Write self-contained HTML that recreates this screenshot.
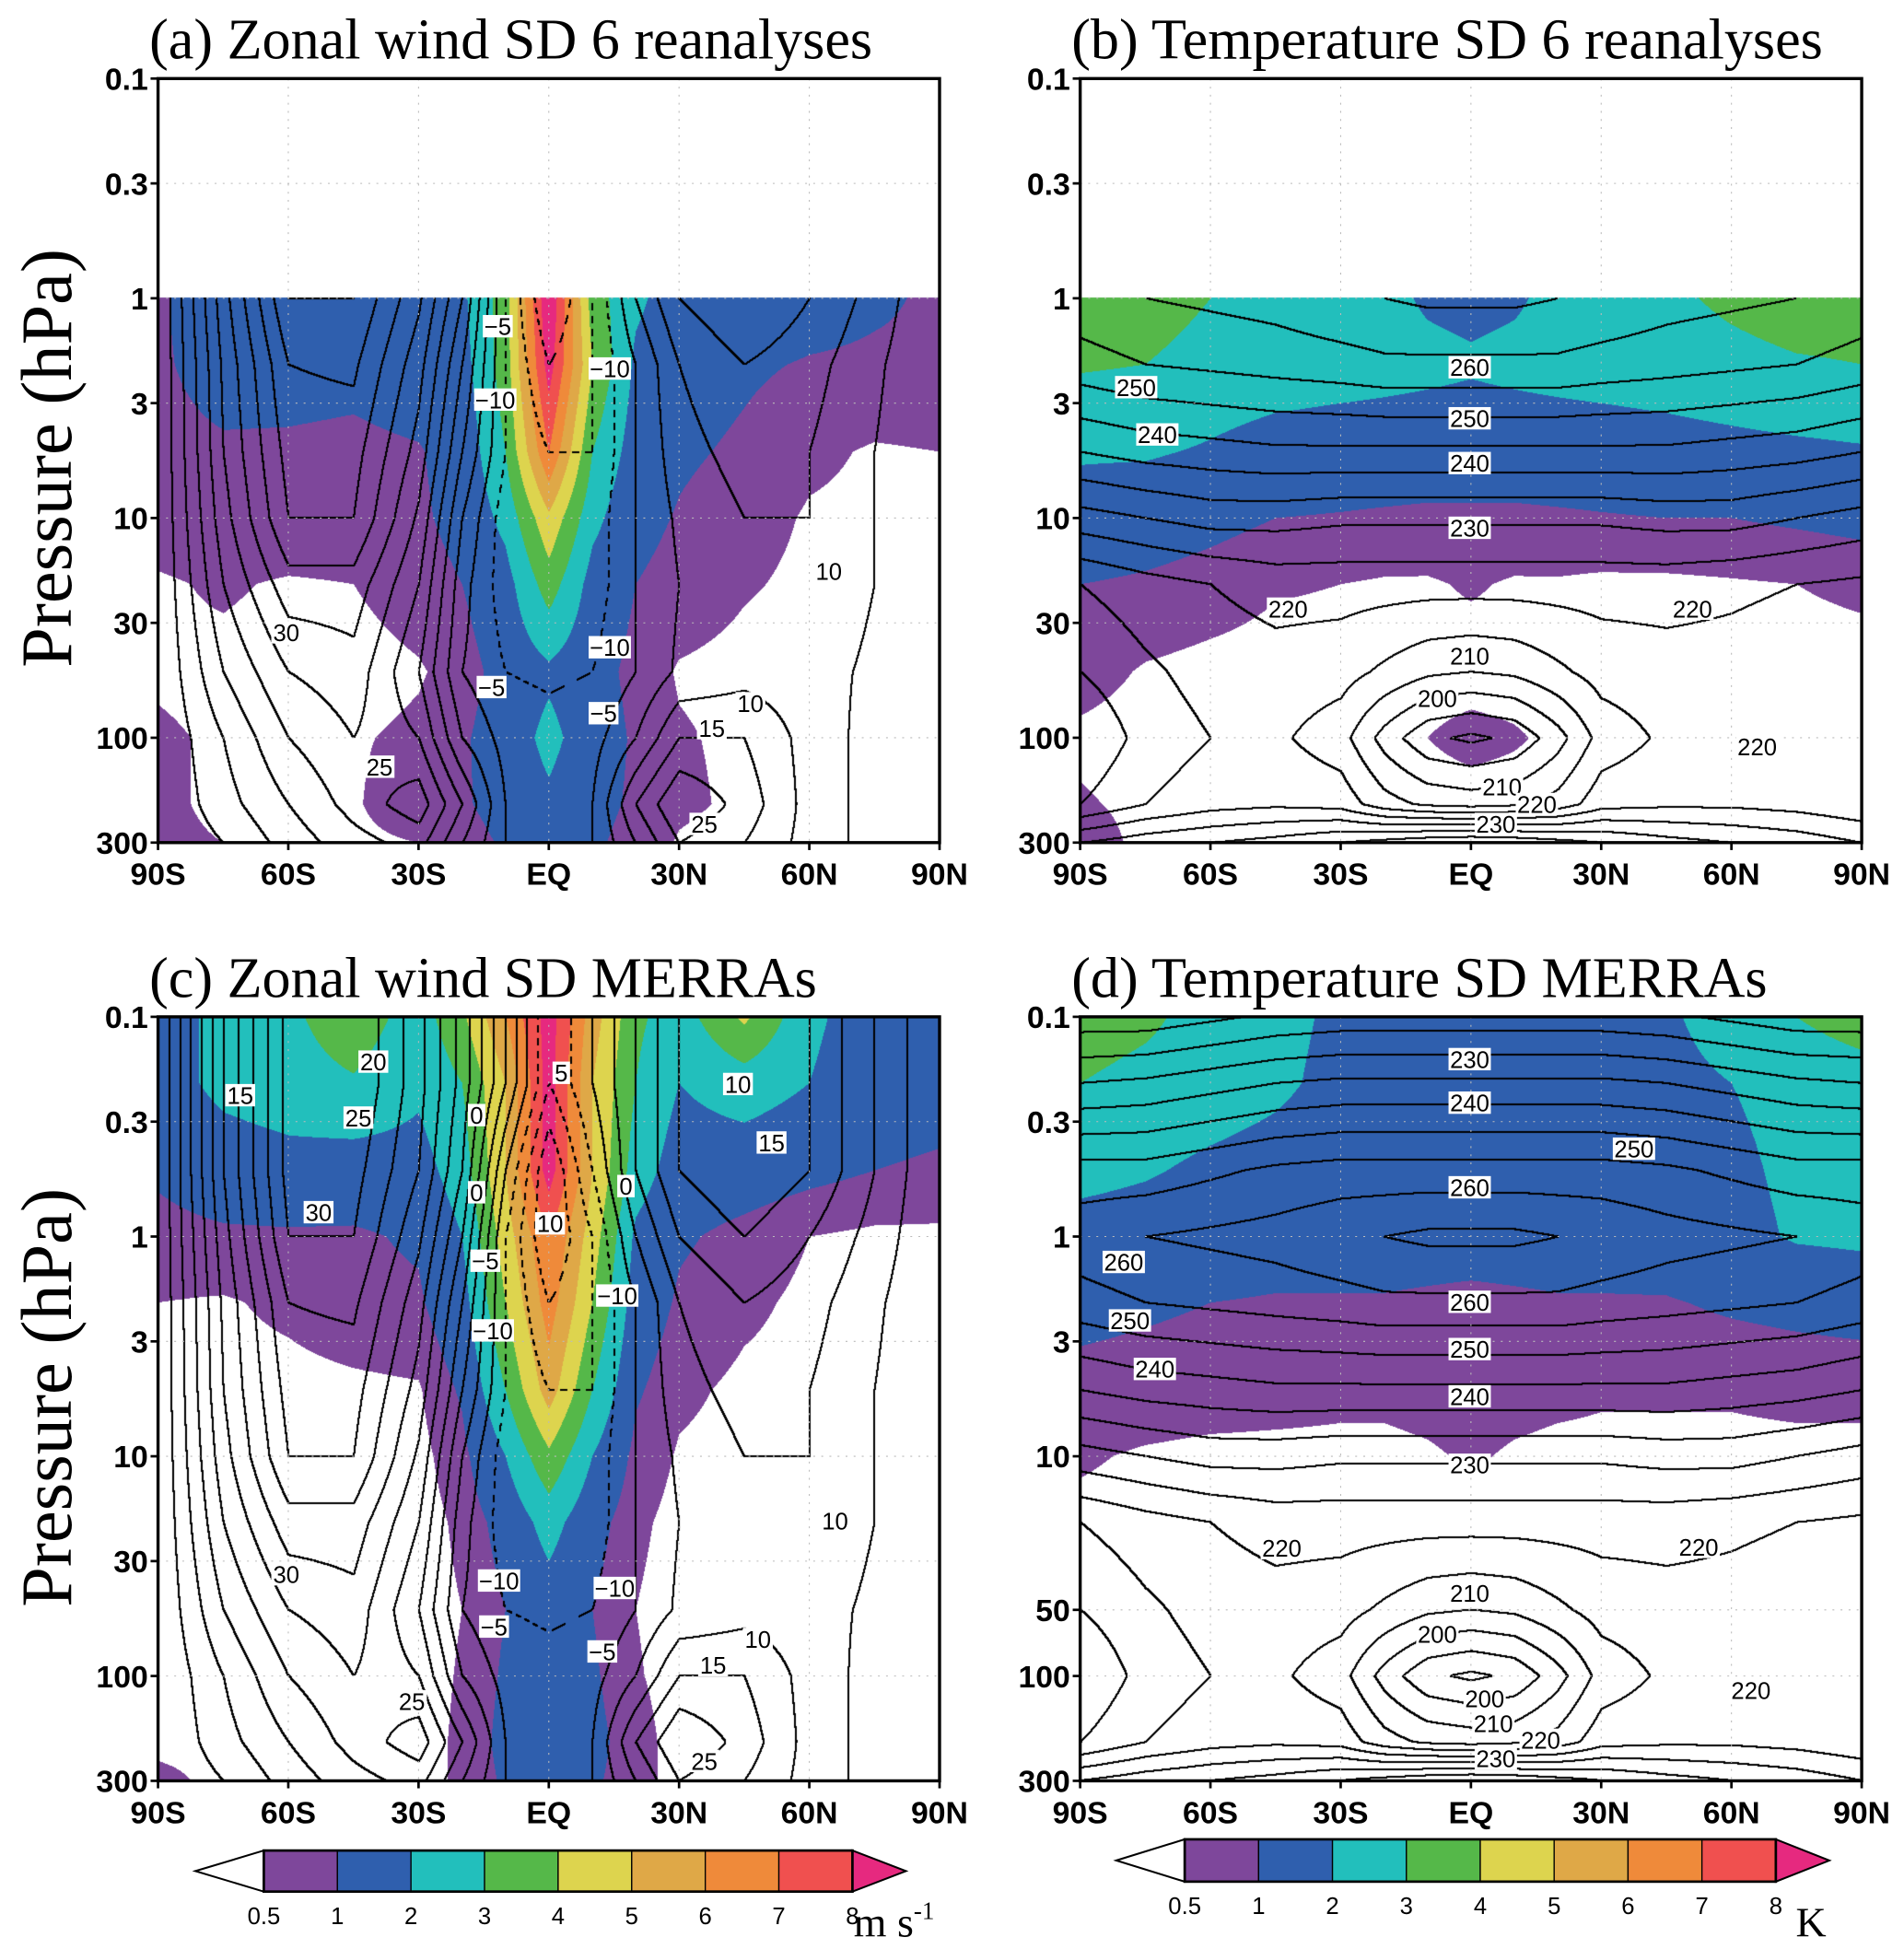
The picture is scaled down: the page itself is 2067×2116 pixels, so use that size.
<!DOCTYPE html>
<html><head><meta charset="utf-8">
<style>
html,body{margin:0;padding:0;background:#fff;}
#wrap{position:relative;width:2067px;height:2116px;overflow:hidden;}
canvas{position:absolute;}
svg{position:absolute;left:0;top:0;}
</style></head>
<body>
<div id="wrap">
<canvas id="cA"></canvas>
<canvas id="cB"></canvas>
<canvas id="cC"></canvas>
<canvas id="cD"></canvas>
<svg id="ov" width="2067" height="2116" viewBox="0 0 1530 1566"></svg>
</div>
<script>
// ---------- data ----------
const LATS=[-90,-75,-60,-45,-30,-20,-10,0,10,20,30,45,60,75,90];
const LEVS=[0.1,0.2,0.5,1,2,5,10,20,50,100,200,300];
const N=null;
const sdA=[
 N,N,N,
 [0.9,1.5,1.5,1.5,1.5,1.8,3.5,9,3.5,2.2,1.5,1.5,1.3,1.1,0.9],
 [0.9,1.3,1.25,1.2,1.4,1.6,3.5,8.5,4,1.8,1.3,1.1,0.95,0.9,0.9],
 [0.8,0.9,0.9,0.85,0.95,1.3,3,7,3,1.5,1.1,0.9,0.6,0.45,0.5],
 [0.7,0.8,0.85,0.8,0.9,1.2,2.3,4.8,2.3,1.2,0.95,0.7,0.45,0.4,0.4],
 [0.45,0.55,0.45,0.5,0.75,1.0,1.6,3.5,1.6,1.0,0.8,0.55,0.4,0.35,0.35],
 [0.45,0.4,0.35,0.3,0.45,0.7,1.3,1.8,1.3,0.8,0.45,0.35,0.3,0.3,0.3],
 [0.55,0.45,0.35,0.45,0.6,0.9,1.4,2.3,1.4,0.9,0.55,0.4,0.3,0.3,0.3],
 [0.6,0.4,0.35,0.45,0.8,0.9,1.3,1.8,1.2,0.9,0.6,0.4,0.3,0.3,0.3],
 [0.6,0.5,0.35,0.4,0.5,0.7,1.1,1.4,1.1,0.8,0.45,0.3,0.3,0.3,0.3]];
const sdB=[
 N,N,N,
 [3.5,3.5,3,2.5,2.5,2.2,1.9,1.8,1.9,2.2,2.5,2.8,3.2,3.5,3.5],
 [3.1,3.0,2.6,2.5,2.4,2.3,2.2,2.1,2.2,2.3,2.4,2.5,2.7,2.9,3.0],
 [2.1,2.1,1.9,1.6,1.5,1.5,1.5,1.5,1.5,1.5,1.5,1.6,1.7,1.8,1.9],
 [1.6,1.4,1.2,1.0,0.95,0.9,0.85,0.85,0.85,0.9,0.95,1.0,1.0,1.1,1.2],
 [1.0,0.9,0.75,0.55,0.5,0.45,0.45,0.55,0.45,0.45,0.4,0.4,0.45,0.5,0.6],
 [0.7,0.45,0.35,0.3,0.3,0.3,0.3,0.3,0.3,0.3,0.3,0.3,0.3,0.3,0.3],
 [0.4,0.3,0.3,0.3,0.3,0.4,0.5,0.65,0.55,0.4,0.3,0.3,0.3,0.3,0.3],
 [0.55,0.4,0.3,0.3,0.3,0.3,0.3,0.3,0.3,0.3,0.3,0.3,0.3,0.3,0.3],
 [0.7,0.4,0.3,0.3,0.3,0.3,0.3,0.3,0.3,0.3,0.3,0.3,0.3,0.3,0.3]];
const sdC=[
 [1.5,2.3,2.8,3.6,2.5,3.8,6,8.5,5.5,3.2,2.5,4.2,2.2,1.5,1.5],
 [1.5,2.3,2.6,2.9,2.2,3,5,8.5,5,3,2,2.5,2,1.4,1.3],
 [1.1,1.4,1.6,1.5,1.6,2.5,5,8.5,5,2.5,1.5,1.4,1.2,1,0.9],
 [0.8,0.9,0.9,0.9,1.1,2,4.5,7,4.5,1.8,1.1,0.8,0.5,0.4,0.4],
 [0.5,0.45,0.6,0.8,0.9,1.6,4,6.5,4,1.5,0.9,0.6,0.4,0.4,0.4],
 [0.4,0.35,0.35,0.4,0.45,1.1,3,5.5,3,1.1,0.6,0.4,0.35,0.35,0.35],
 [0.35,0.3,0.3,0.3,0.35,0.8,2,3.8,2,0.8,0.45,0.35,0.3,0.3,0.3],
 [0.3,0.3,0.3,0.3,0.3,0.6,1.3,2.4,1.3,0.6,0.35,0.3,0.3,0.3,0.3],
 [0.3,0.3,0.3,0.3,0.3,0.5,1.0,1.5,1.0,0.5,0.3,0.3,0.3,0.3,0.3],
 [0.3,0.3,0.3,0.3,0.3,0.55,1.1,1.8,1.1,0.55,0.3,0.3,0.3,0.3,0.3],
 [0.4,0.4,0.3,0.3,0.3,0.6,1.2,1.5,1.2,0.7,0.3,0.3,0.3,0.3,0.3],
 [0.6,0.4,0.3,0.3,0.3,0.6,1.1,1.3,1.1,0.7,0.3,0.3,0.3,0.3,0.3]];
const sdD=[
 [3.5,3.2,2.6,2.3,1.8,1.6,1.6,1.6,1.6,1.6,1.7,1.9,2.3,3.0,3.5],
 [3.0,2.7,2.5,2.2,1.7,1.5,1.5,1.5,1.5,1.5,1.6,1.8,2.0,2.3,2.5],
 [2.3,2.1,1.8,1.6,1.4,1.3,1.3,1.3,1.3,1.3,1.4,1.5,1.8,2.2,2.4],
 [1.6,1.5,1.4,1.3,1.3,1.3,1.3,1.3,1.3,1.3,1.3,1.4,1.7,2.1,2.2],
 [1.2,1.1,1.0,0.95,0.95,0.95,0.9,0.85,0.9,0.95,0.95,0.95,1.1,1.2,1.3],
 [0.8,0.75,0.7,0.65,0.6,0.6,0.65,0.7,0.65,0.6,0.55,0.55,0.55,0.6,0.6],
 [0.55,0.45,0.4,0.4,0.4,0.4,0.45,0.55,0.45,0.4,0.4,0.4,0.4,0.4,0.4],
 [0.4,0.35,0.3,0.3,0.3,0.3,0.3,0.3,0.3,0.3,0.3,0.3,0.3,0.3,0.3],
 [0.3,0.3,0.3,0.3,0.3,0.3,0.3,0.3,0.3,0.3,0.3,0.3,0.3,0.3,0.3],
 [0.3,0.3,0.3,0.3,0.3,0.3,0.3,0.3,0.3,0.3,0.3,0.3,0.3,0.3,0.3],
 [0.3,0.3,0.3,0.3,0.3,0.3,0.3,0.3,0.3,0.3,0.3,0.3,0.3,0.3,0.3],
 [0.3,0.3,0.3,0.3,0.3,0.3,0.3,0.3,0.3,0.3,0.3,0.3,0.3,0.3,0.3]];
const meanU=[
 [0,30,52,55,42,28,10,-10,0,10,20,25,20,10,0],
 [0,30,52,55,42,28,10,-10,0,10,20,25,20,10,0],
 [0,30,52,52,40,25,0,-20,-5,10,20,25,20,10,0],
 [0,28,50,50,36,20,-5,-20,-10,5,15,20,15,8,0],
 [0,26,45,46,32,15,-5,-15,-10,0,10,15,12,6,0],
 [0,25,42,42,28,10,-5,-10,-10,0,8,12,10,5,0],
 [0,23,40,40,24,5,-8,-10,-8,0,6,10,10,5,0],
 [0,20,33,33,20,2,-8,-8,-8,0,5,8,9,5,0],
 [0,15,25,28,15,0,-5,-6,-5,0,6,8,7,4,0],
 [0,10,20,25,20,5,-2,-3,-2,5,15,15,8,3,0],
 [0,8,15,22,28,15,0,-2,0,15,25,18,8,3,0],
 [0,5,12,18,22,10,0,-2,0,10,20,15,8,3,0]];
const meanT=[
 [222,222,224,226,227,227,227,227,227,227,227,226,224,222,222],
 [235,236,238,240,241,241,241,241,241,241,241,240,238,236,235],
 [252,252,254,256,257,257,257,257,257,257,257,256,254,252,252],
 [258,260,261,262,264,265,266,266,266,265,264,262,261,260,258],
 [253,255,256,257,258,259,259,259,259,259,258,257,256,255,253],
 [240,242,243,244,244,244,244,244,244,244,244,244,243,242,240],
 [228,230,232,232,231,231,231,231,231,231,231,232,232,230,228],
 [215,218,220,222,222,222,222,222,222,222,222,222,221,220,219],
 [210,214,217,218,217,214,211,210,211,214,217,218,218,217,216],
 [205,212,215,216,212,203,196,194,196,203,212,216,218,218,216],
 [210,215,218,219,218,212,209,208,209,212,218,219,219,218,216],
 [225,228,230,232,235,237,239,240,239,237,235,232,230,228,225]];
const CLEV=[0.5,1,2,3,4,5,6,7,8];
const CBLABELS=["0.5","1","2","3","4","5","6","7","8"];
const COLORS=["#7e479b","#2f5fae","#22bfbc","#55b849","#ddd44e","#dfa847","#ef8a3a","#f0504f","#e6297f"];
const YTICKS_ABC=[0.1,0.3,1,3,10,30,100,300];
const YTICKS_D=[0.1,0.3,1,3,10,50,100,300];
const XTICKS=[-90,-60,-30,0,30,60,90];
const XLABELS=["90S","60S","30S","EQ","30N","60N","90N"];
const LAB_A=[["-5",400,262],["-10",490,296],["-10",398,321],["30",230,508],["-10",490,520],["-5",395,552],["-5",485,573],["10",603,565],["15",572,585],["25",305,616],["25",566,662],["10",666,459]];
const LAB_B=[["250",913,311],["240",930,349],["260",1181,295],["250",1181,336],["240",1181,372],["230",1181,424],["220",1035,489],["220",1360,489],["210",1181,527],["200",1155,561],["210",1207,632],["220",1235,646],["230",1202,662],["220",1412,600]];
const LAB_C=[["15",193,880],["20",300,853],["25",288,898],["30",256,974],["0",383,896],["0",383,958],["5",451,862],["10",442,983],["0",503,953],["-5",390,1013],["-10",496,1041],["-10",396,1069],["10",593,871],["15",620,918],["30",230,1265],["10",671,1222],["-10",401,1270],["-10",494,1276],["-5",397,1307],["-5",484,1327],["10",609,1317],["15",573,1338],["25",331,1367],["25",566,1415]];
const LAB_D=[["230",1181,851],["240",1181,886],["250",1313,923],["260",1181,954],["260",903,1014],["250",908,1061],["240",928,1100],["260",1181,1046],["250",1181,1084],["240",1181,1122],["230",1181,1177],["220",1030,1244],["220",1365,1243],["210",1181,1280],["200",1155,1313],["200",1193,1365],["210",1200,1385],["220",1238,1398],["230",1202,1413],["220",1407,1358]];

// ---------- layout (display units, scaled by S) ----------
const S=2067/1530;
const PW=628, PH=614;
const panels=[
 {id:"cA",x:127,y:63,sd:sdA,mean:meanU,iv:5,ticks:YTICKS_ABC,title:"(a) Zonal wind SD 6 reanalyses",labs:LAB_A,key:"a",minP:1},
 {id:"cB",x:868,y:63,sd:sdB,mean:meanT,iv:5,ticks:YTICKS_ABC,title:"(b) Temperature SD 6 reanalyses",labs:LAB_B,key:"b",minP:1},
 {id:"cC",x:127,y:817,sd:sdC,mean:meanU,iv:5,ticks:YTICKS_ABC,title:"(c) Zonal wind SD MERRAs",labs:LAB_C,key:"c",minP:0},
 {id:"cD",x:868,y:817,sd:sdD,mean:meanT,iv:5,ticks:YTICKS_D,title:"(d) Temperature SD MERRAs",labs:LAB_D,key:"d",minP:0}];
const LMIN=-1, LMAX=Math.log10(300);
function yOf(p,pan){return pan.y+(Math.log10(p)-LMIN)/(LMAX-LMIN)*PH;}
function xOf(lat,pan){return pan.x+(lat+90)/180*PW;}
const LL=LEVS.map(p=>Math.log10(p));
function idx(arr,v){let i=0;while(i<arr.length-2&&v>arr[i+1])i++;return i;}
function interp(g,lat,lp){
 const i=idx(LATS,lat), j=idx(LL,lp);
 const tx=Math.max(0,Math.min(1,(lat-LATS[i])/(LATS[i+1]-LATS[i])));
 const ty=Math.max(0,Math.min(1,(lp-LL[j])/(LL[j+1]-LL[j])));
 const r0=g[j], r1=g[j+1];
 if(!r0||!r1){ if(!r0&&!r1) return null; const r=r0||r1; return r[i]*(1-tx)+r[i+1]*tx; }
 const a=r0[i]*(1-tx)+r0[i+1]*tx, b=r1[i]*(1-tx)+r1[i+1]*tx;
 return a*(1-ty)+b*ty;
}
function hex(c){return [parseInt(c.substr(1,2),16),parseInt(c.substr(3,2),16),parseInt(c.substr(5,2),16)];}
const RGB=COLORS.map(hex);

panels.forEach(pan=>{
 const cv=document.getElementById(pan.id);
 const L=Math.round(pan.x*S), T=Math.round(pan.y*S);
 const W=Math.round((pan.x+PW)*S)-L, H=Math.round((pan.y+PH)*S)-T;
 cv.width=W; cv.height=H; cv.style.left=L+"px"; cv.style.top=T+"px";
 const ctx=cv.getContext("2d");
 const img=ctx.createImageData(W,H); const d=img.data;
 const F=new Float32Array(W*H); const M=new Uint8Array(W*H);
 const minLP=pan.minP>0?Math.log10(pan.minP):-99;
 for(let j=0;j<H;j++){
  const lp=LMIN+(j+0.5)/H*(LMAX-LMIN);
  for(let i=0;i<W;i++){
   const lat=-90+(i+0.5)/W*180;
   const k=j*W+i; let r=255,g=255,b=255;
   if(lp>=minLP-0.002){
    M[k]=1;
    const v=interp(pan.sd,lat,Math.max(lp,pan.minP>0?minLP:lp));
    if(v!==null&&v>=CLEV[0]){let c=0;while(c<CLEV.length-1&&v>=CLEV[c+1])c++;[r,g,b]=RGB[c];}
    F[k]=interp(pan.mean,lat,lp);
   }
   d[k*4]=r;d[k*4+1]=g;d[k*4+2]=b;d[k*4+3]=255;
  }
 }
 const lw=2;
 for(let j=0;j<H-1;j++)for(let i=0;i<W-1;i++){
  const k=j*W+i; if(!M[k]||!M[k+1]||!M[k+W])continue;
  const a=Math.floor(F[k]/pan.iv), b=Math.floor(F[k+1]/pan.iv), c=Math.floor(F[k+W]/pan.iv);
  if(a!==b||a!==c){
   const lev=Math.max(a,b,c)*pan.iv;
   if(lev<0 && (Math.floor((i+j)/7)%2===1)) continue;
   for(let dy=0;dy<lw;dy++)for(let dx=0;dx<lw;dx++){
    const q=(j+dy)*W+(i+dx); d[q*4]=0;d[q*4+1]=0;d[q*4+2]=0;
   }
  }
 }
 ctx.putImageData(img,0,0);
});

// ---------- SVG overlay ----------
const NS="http://www.w3.org/2000/svg";
const ov=document.getElementById("ov");
function el(tag,attrs,parent,text){const e=document.createElementNS(NS,tag);for(const k in attrs)e.setAttribute(k,attrs[k]);if(text!==undefined)e.textContent=text;(parent||ov).appendChild(e);return e;}
const TF='"Liberation Sans Narrow","Liberation Sans",sans-serif';
const SF='"Liberation Serif",serif';
panels.forEach(pan=>{
 const g=el("g",{});
 
 
 pan.ticks.forEach(p=>{const y=yOf(p,pan);
  const ln=el("line",{x1:pan.x,x2:pan.x+PW,y1:y,y2:y,stroke:"#bbb","stroke-width":0.8,"stroke-dasharray":"1.5 5"},g);
  });
 XTICKS.forEach(l=>{const x=xOf(l,pan);
  const ln=el("line",{x1:x,x2:x,y1:pan.y,y2:pan.y+PH,stroke:"#bbb","stroke-width":0.8,"stroke-dasharray":"1.5 5"},g);
  });
 pan.labs.forEach(([t,x,y])=>{
  const w=t.length*10+4;
  const r=el("rect",{x:x-w/2,y:y-9,width:w,height:18,fill:"#fff"},g);
  
  const tx=el("text",{x:x,y:y+7,"font-family":TF,"font-size":19,"text-anchor":"middle",fill:"#000"},g,t.replace("-","−"));
  
 });
 const fr=el("rect",{x:pan.x,y:pan.y,width:PW,height:PH,fill:"none",stroke:"#000","stroke-width":2.5},g);
 
 pan.ticks.forEach(p=>{const y=yOf(p,pan);
  const tk=el("line",{x1:pan.x-6,x2:pan.x,y1:y,y2:y,stroke:"#000","stroke-width":2},g);
  
  const t=el("text",{x:pan.x-8,y:y+9,"font-family":TF,"font-weight":"bold","font-size":25,"text-anchor":"end"},g,String(p));
  });
 XTICKS.forEach((l,k)=>{const x=xOf(l,pan);
  const tk=el("line",{x1:x,x2:x,y1:pan.y+PH,y2:pan.y+PH+6,stroke:"#000","stroke-width":2},g);
  
  const t=el("text",{x:x,y:pan.y+PH+34,"font-family":TF,"font-weight":"bold","font-size":25,"text-anchor":"middle"},g,XLABELS[k]);
  });
 const tt=el("text",{x:pan.x-7,y:pan.y-16,"font-family":SF,"font-size":46},g,pan.title);
 
});
[[368],[1123]].forEach(([cy])=>{
 const t=el("text",{x:0,y:0,transform:`translate(57,${cy}) rotate(-90)`,"font-family":SF,"font-size":58,"text-anchor":"middle"},ov,"Pressure (hPa)");
 
});
function colorbar(x0,x1,y0,h,unit,ux,uy,name){
 const g=el("g",{});
 
 
 const tri=55, n=COLORS.length-1, bw=(x1-x0-2*tri+12)/n;
 const bs=x0+tri, ym=y0+h/2;
 const lt=el("polygon",{points:`${x0},${ym} ${bs},${y0} ${bs},${y0+h}`,fill:"#fff",stroke:"#000","stroke-width":1.5},g);
 
 for(let k=0;k<n;k++){
  const r=el("rect",{x:bs+k*bw,y:y0,width:bw,height:h,fill:COLORS[k],stroke:"#000","stroke-width":1},g);
  
 }
 const be=bs+n*bw;
 const rt=el("polygon",{points:`${be},${y0} ${x1},${ym} ${be},${y0+h}`,fill:COLORS[n],stroke:"#000","stroke-width":1.5},g);
 
 const fr=el("rect",{x:bs,y:y0,width:n*bw,height:h,fill:"none",stroke:"#000","stroke-width":2},g);
 
 CBLABELS.forEach((s,k)=>{
  const t=el("text",{x:bs+k*bw,y:y0+h+26,"font-family":TF,"font-size":19,"text-anchor":"middle"},g,s);
  
 });
 const u=el("text",{x:ux,y:uy,"font-family":SF,"font-size":34},g,unit);
 
 return u;
}
const u1=colorbar(157,728,1487,33,"m s",686,1556,"colorbar-wind");
const sup=el("tspan",{"font-size":20,dy:-14},u1,"-1");

colorbar(897,1470,1478,34,"K",1443,1556,"colorbar-temperature");
</script>
</body></html>
